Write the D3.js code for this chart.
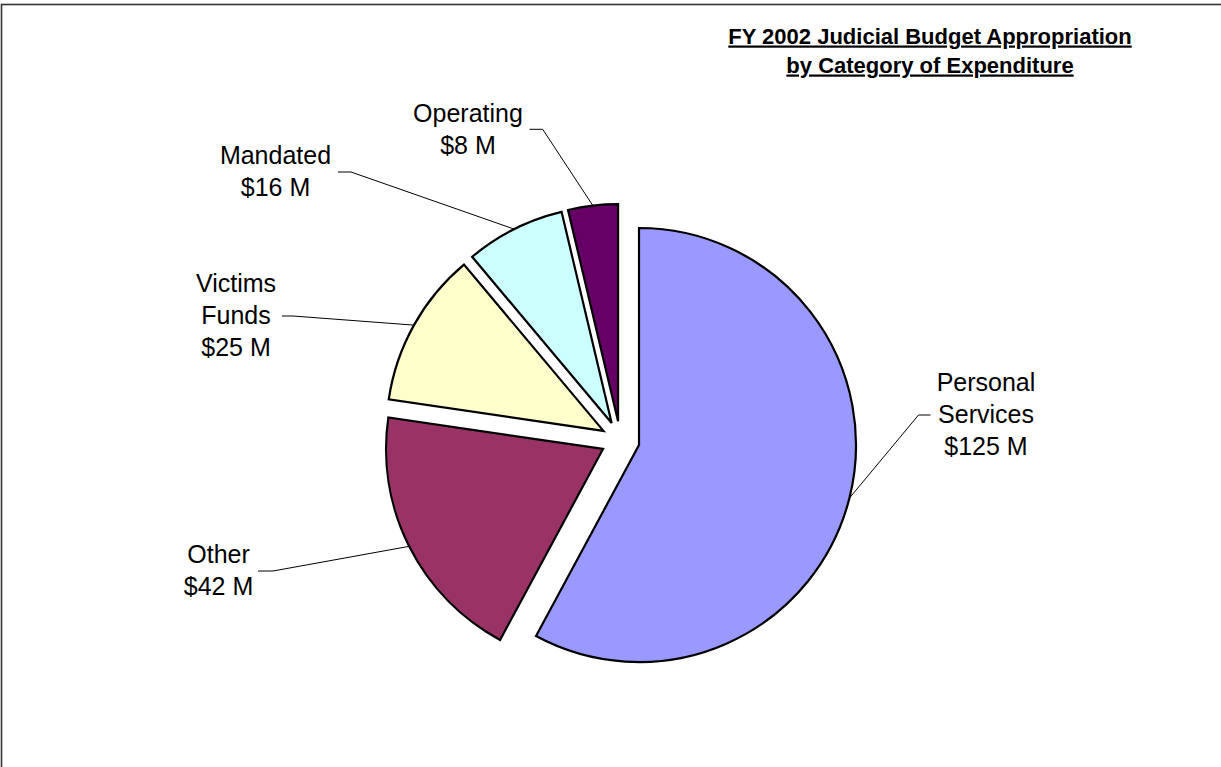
<!DOCTYPE html>
<html>
<head>
<meta charset="utf-8">
<script src="https://cdn.jsdelivr.net/npm/d3@7"></script>
<style>
  html, body { margin: 0; padding: 0; background: #fff; }
  svg { display: block; font-family: "Liberation Sans", Arial, sans-serif; }
</style>
</head>
<body>
<svg id="chart" width="1221" height="767"></svg>
<script>
// ---- data ----
const categories = ["Personal Services", "Other", "Victims Funds", "Mandated", "Operating"];
const values = [125, 42, 25, 16, 8];
const valueLabels = ["$125 M", "$42 M", "$25 M", "$16 M", "$8 M"];
const colors = ["#9999FF", "#993366", "#FFFFCC", "#CCFFFF", "#660066"];
const titleLines = ["FY 2002 Judicial Budget Appropriation", "by Category of Expenditure"];

// ---- layout (label placement, as dragged in the original) ----
const labelCenterX = [986, 218.5, 236, 275.5, 468];
const labelFirstBaseline = [391, 563, 292, 164, 122];
const leaderStart = [[930.5, 415], [258, 571], [282, 316], [338, 172], [529.5, 129.3]];
const leaderElbow = [[918.5, 415], [273, 571], [293, 316], [351, 172], [542.7, 129.3]];

const W = 1221, H = 767;
const cx = 620.3, cy = 440.3, R = 217, explode = 19.3;
const lineH = 32;

const svg = d3.select("#chart");

// frame
svg.append("rect")
  .attr("x", 1.5).attr("y", 4.5)
  .attr("width", 1400).attr("height", 1000)
  .attr("fill", "none").attr("stroke", "#333").attr("stroke-width", 1.6);

// title
const title = svg.append("text")
  .attr("text-anchor", "middle")
  .attr("font-size", 22).attr("font-weight", "bold")
  .attr("fill", "#000")
  .style("text-decoration", "underline");
titleLines.forEach((t, i) => {
  title.append("tspan").attr("x", 930).attr("y", 43.5 + i * 29).text(t);
});

// pie
const pie = d3.pie().sort(null).value(d => d.v).startAngle(0).endAngle(2 * Math.PI);
const data = categories.map((c, i) => ({ c, v: values[i], i }));
const arcs = pie(data);
const arc = d3.arc().innerRadius(0).outerRadius(R);

function offsetOf(a) {
  const m = (a.startAngle + a.endAngle) / 2;
  return [Math.sin(m) * explode, -Math.cos(m) * explode];
}

const g = svg.append("g").attr("transform", `translate(${cx},${cy})`);
g.selectAll("path.slice")
  .data(arcs)
  .join("path")
  .attr("class", "slice")
  .attr("transform", d => { const o = offsetOf(d); return `translate(${o[0]},${o[1]})`; })
  .attr("d", arc)
  .attr("fill", d => colors[d.data.i])
  .attr("stroke", "#000")
  .attr("stroke-width", 2.2)
  .attr("stroke-linejoin", "miter");

// leader lines
arcs.forEach(a => {
  const i = a.data.i;
  const o = offsetOf(a);
  const m = (a.startAngle + a.endAngle) / 2;
  const px = cx + o[0] + Math.sin(m) * R;
  const py = cy + o[1] - Math.cos(m) * R;
  const pts = [leaderStart[i], leaderElbow[i], [px, py]];
  svg.append("path")
    .attr("d", d3.line()(pts))
    .attr("fill", "none")
    .attr("stroke", "#000")
    .attr("stroke-width", 1);
});

// labels
arcs.forEach(a => {
  const i = a.data.i;
  const lines = categories[i].split(" ").concat([valueLabels[i]]);
  const t = svg.append("text")
    .attr("text-anchor", "middle")
    .attr("font-size", 25)
    .attr("fill", "#000");
  lines.forEach((l, k) => {
    t.append("tspan").attr("x", labelCenterX[i]).attr("y", labelFirstBaseline[i] + k * lineH).text(l);
  });
});
</script>
</body>
</html>
